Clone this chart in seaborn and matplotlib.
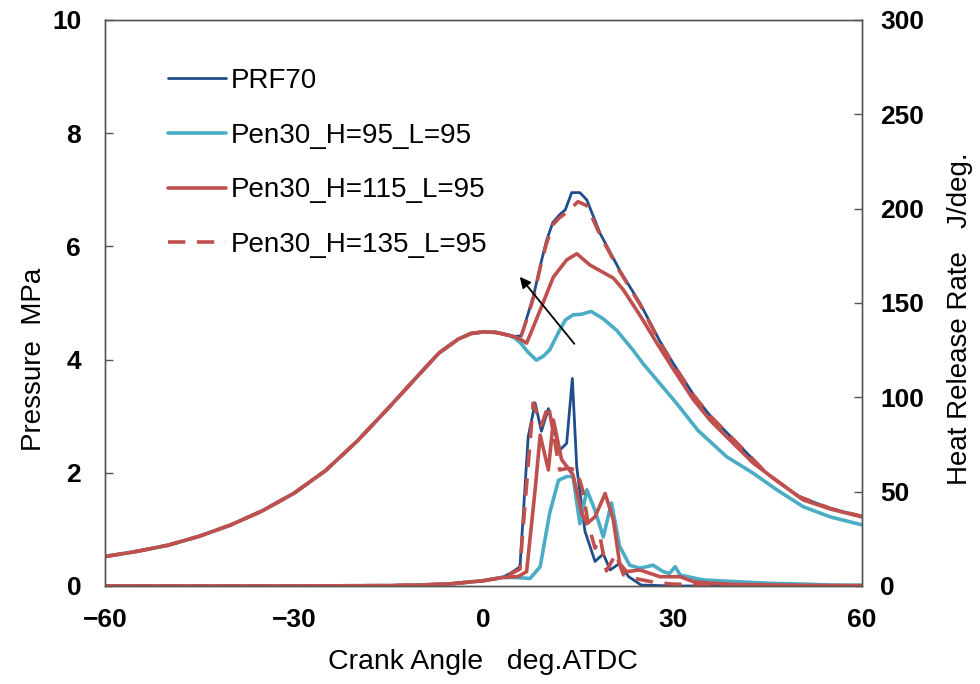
import matplotlib
matplotlib.use("Agg")
import matplotlib.pyplot as plt
import seaborn as sns
import pandas as pd

sns.set_theme(style="white")
plt.rcParams["font.family"] = ["Liberation Sans", "DejaVu Sans"]
plt.rcParams["axes.unicode_minus"] = True
plt.rcParams["text.color"] = "black"
plt.rcParams["axes.labelcolor"] = "black"
plt.rcParams["xtick.labelcolor"] = "black"
plt.rcParams["ytick.labelcolor"] = "black"

# ---- Cylinder pressure (MPa) ----
ca_comp = [-60, -55, -50, -45, -40, -35, -30, -25, -20, -15, -10, -7, -4, -2, 0, 2, 4]
p_comp = [0.52, 0.61, 0.72, 0.88, 1.08, 1.33, 1.64, 2.04, 2.56, 3.15, 3.76, 4.12, 4.36, 4.46, 4.49, 4.48, 4.43]

ca_p_prf70 = [5, 6, 7, 8, 9, 10, 11, 12, 13, 14, 15.3, 16.4, 18.5, 21.6, 24.8, 28, 30, 33.3, 36, 40, 45, 50, 55, 60]
p_prf70 = [4.41, 4.42, 4.78, 5.15, 5.65, 6.1, 6.42, 6.55, 6.65, 6.95, 6.95, 6.82, 6.23, 5.58, 5.0, 4.32,
           3.95, 3.38, 3.0, 2.55, 1.98, 1.58, 1.37, 1.23]

ca_p_h95 = [5, 6, 7, 8.4, 9.5, 10.5, 12, 13, 14.2, 15.5, 17.1, 19, 21.1, 23.7, 25.3, 30.6, 34, 38.6, 42.8,
            46.5, 50.7, 55, 60]
p_h95 = [4.38, 4.28, 4.14, 3.99, 4.06, 4.17, 4.5, 4.7, 4.79, 4.8, 4.85, 4.72, 4.52, 4.17, 3.93, 3.23, 2.75,
         2.28, 1.99, 1.7, 1.4, 1.22, 1.08]

ca_p_h115 = [5, 6, 6.85, 8, 9.2, 11.1, 13.2, 14.8, 16.9, 18.5, 20.6, 22.2, 25, 27.5, 30, 33.3, 36, 39.6,
             42.8, 46.5, 50.7, 55, 60]
p_h115 = [4.4, 4.35, 4.29, 4.6, 4.93, 5.46, 5.76, 5.87, 5.67, 5.57, 5.44, 5.23, 4.75, 4.29, 3.85, 3.29,
          2.92, 2.52, 2.17, 1.86, 1.52, 1.36, 1.22]

ca_p_h135 = [5, 6, 7, 8, 9, 10, 11, 12, 13.4, 15, 16.4, 18.5, 21.6, 24.8, 28, 30, 33.3, 36, 40, 45, 50, 55, 60]
p_h135 = [4.41, 4.42, 4.75, 5.12, 5.62, 6.05, 6.38, 6.5, 6.62, 6.79, 6.72, 6.2, 5.56, 4.98, 4.3,
          3.93, 3.37, 3.0, 2.55, 1.98, 1.58, 1.37, 1.23]

# ---- Heat release rate (J/deg.) ----
ca_hrr_pre = [-60, -30, -15, -10, -5, 0, 3]
hrr_pre = [0, 0, 0.2, 0.5, 1.2, 2.8, 4.5]

ca_q_prf70 = [4.7, 5.8, 7.1, 8.2, 9.2, 10.3, 12.1, 13.2, 14.1, 14.8, 16.1, 17.7, 19.0, 20.1, 21.6, 23.0,
              25, 30, 60]
q_prf70 = [7.6, 10.2, 79, 97, 82, 94, 72, 75.6, 110, 63, 29, 13, 17, 8.5, 12, 5, 0.5, 0, 0]

ca_q_h95 = [5, 7.4, 9.0, 10.5, 11.9, 13.2, 14.2, 15.3, 16.4, 17.7, 19.0, 20.3, 21.6, 23.2, 24.8, 26.9, 28.5,
            29.5, 30.4, 31.2, 34.8, 40.1, 45.4, 50.7, 55, 60]
q_h95 = [4.5, 4, 10.2, 38.5, 56, 58, 58, 33, 51, 40, 26, 44, 21, 11, 9.4, 11, 7.6, 6.7, 10.2, 5.8, 3.2, 2.3,
         1.4, 1, 0.5, 0.4]

ca_q_h115 = [5.5, 6.85, 8.2, 9.0, 10.3, 11.1, 12.4, 14.2, 15.6, 16.4, 17.7, 19.3, 20.6, 21.6, 22.7, 24.8,
             26.4, 28, 31.2, 33.3, 36, 40, 50, 60]
q_h115 = [5, 7.6, 51, 80, 61.5, 88, 67, 59, 38.5, 33, 36.7, 49, 35, 12, 7.6, 8.5, 6.7, 4.9, 4.9, 2.3, 1.5,
          0.8, 0.3, 0.2]

ca_q_h135 = [4.7, 5.8, 6.3, 7.9, 9.2, 10.3, 12.1, 13.4, 14.8, 15.8, 16.6, 17.7, 18.5, 19.5, 21.0, 22.2, 24,
             27, 30, 35, 60]
q_h135 = [7, 9, 31, 97, 85, 96, 61.5, 62.4, 61.5, 50, 33, 20, 26, 8, 17, 6, 4, 2, 1, 0.5, 0]

labels = ["PRF70", "Pen30_H=95_L=95", "Pen30_H=115_L=95", "Pen30_H=135_L=95"]
colors = ["#1F4E8A", "#4BACC6", "#C0504D", "#C0504D"]
widths = [2.0, 2.6, 2.6, 2.6]
dashed = [False, False, False, True]

p_tails = [(ca_p_prf70, p_prf70), (ca_p_h95, p_h95), (ca_p_h115, p_h115), (ca_p_h135, p_h135)]
q_tails = [(ca_q_prf70, q_prf70), (ca_q_h95, q_h95), (ca_q_h115, q_h115), (ca_q_h135, q_h135)]

fig = plt.figure(figsize=(9.8, 6.84), dpi=100)
ax = fig.add_axes([0.107, 0.1433, 0.7725, 0.8275])
ax2 = ax.twinx()

for lab, col, lw, ds, (cx, px), (qx, qy) in zip(labels, colors, widths, dashed, p_tails, q_tails):
    dfp = pd.DataFrame({"ca": ca_comp + cx, "val": p_comp + px})
    dfq = pd.DataFrame({"ca": ca_hrr_pre + qx, "val": hrr_pre + qy})
    kw = dict(color=col, linewidth=lw, sort=False, estimator=None)
    sns.lineplot(data=dfp, x="ca", y="val", ax=ax, label=lab, **kw)
    sns.lineplot(data=dfq, x="ca", y="val", ax=ax2, legend=False, **kw)
    if ds:
        ax.lines[-1].set_dashes((4.8, 3.2))
        ax2.lines[-1].set_dashes((4.8, 3.2))

ax.set_xlim(-60, 60)
ax.set_ylim(0, 10)
ax2.set_ylim(0, 300)
ax.set_xticks([-60, -30, 0, 30, 60])
ax.set_yticks([0, 2, 4, 6, 8, 10])
ax2.set_yticks([0, 50, 100, 150, 200, 250, 300])

tick_font = dict(fontsize=19, fontweight="bold")
ax.set_xticklabels(["\u221260", "\u221230", "0", "30", "60"], **tick_font)
ax.set_yticklabels([str(v) for v in [0, 2, 4, 6, 8, 10]], **tick_font)
ax2.set_yticklabels([str(v) for v in [0, 50, 100, 150, 200, 250, 300]], **tick_font)

ax.tick_params(axis="y", direction="in", length=6, width=1, color="#555555", pad=17)
ax.tick_params(axis="x", direction="in", length=6, width=1, color="#555555", pad=16)
ax2.tick_params(axis="y", direction="in", length=6, width=1, color="#555555", pad=13)

for a in (ax, ax2):
    for s in a.spines.values():
        s.set_color("#555555")
        s.set_linewidth(1.0)
    a.grid(False)

ax.set_xlabel("Crank Angle   deg.ATDC", fontsize=20.5, labelpad=12)
ax.set_ylabel("Pressure  MPa", fontsize=20)
ax2.set_ylabel("Heat Release Rate   J/deg.", fontsize=20)
ax.yaxis.set_label_coords(-0.076, 0.40)
ax2.yaxis.set_label_coords(1.112, 0.472)

ax.annotate("", xy=(5.5, 5.5), xytext=(14.7, 4.24),
            arrowprops=dict(arrowstyle="-|>", color="black", lw=1.3, mutation_scale=16))

leg = ax.legend(loc="upper left", bbox_to_anchor=(0.0832, 0.915), frameon=False, fontsize=20,
                handlelength=2.1, handletextpad=0.18, labelspacing=1.03, borderpad=0,
                borderaxespad=0)

fig.savefig("out.png", dpi=100)
